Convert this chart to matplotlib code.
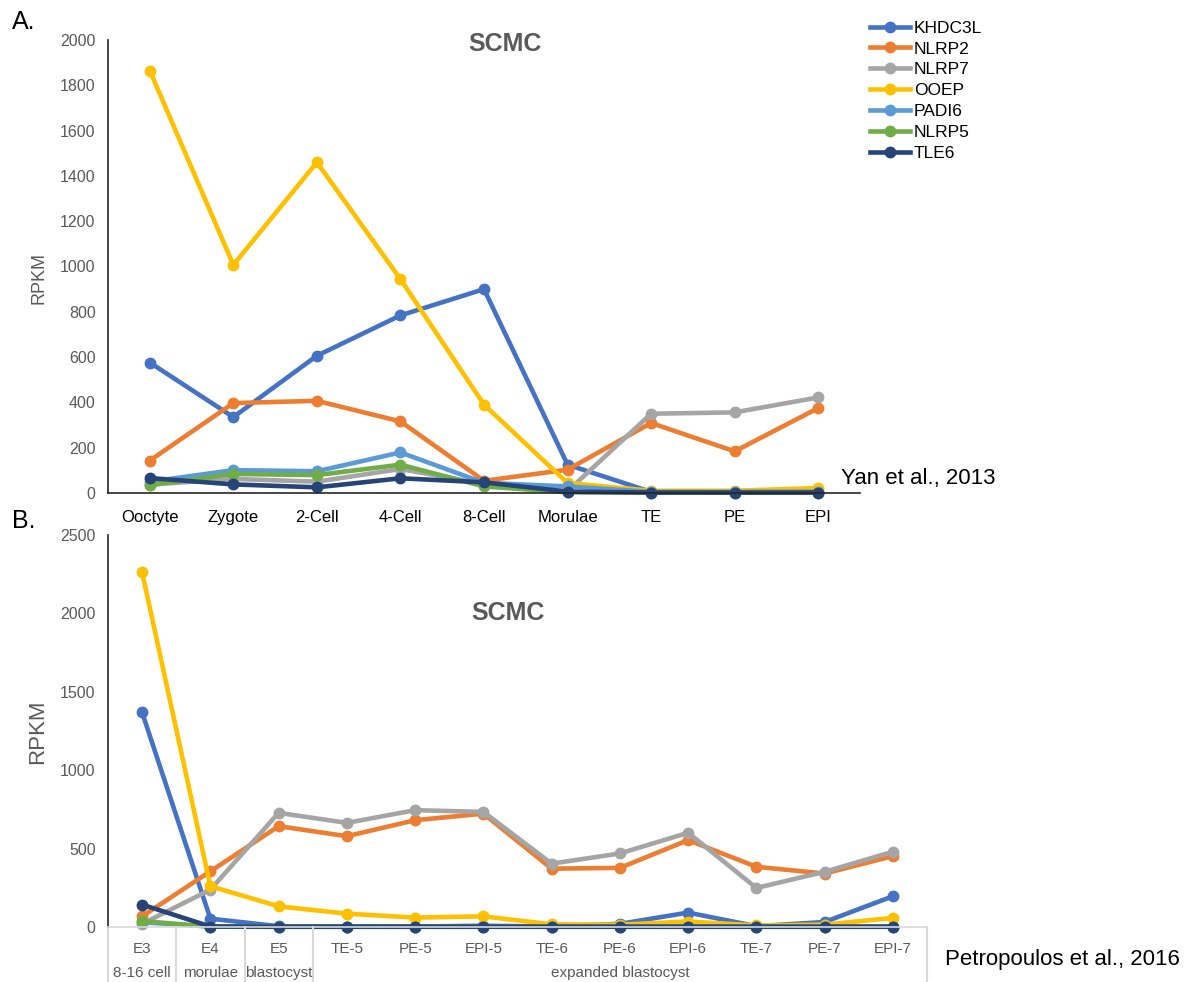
import matplotlib
matplotlib.use("Agg")
import matplotlib.pyplot as plt

plt.rcParams['font.family'] = ['Liberation Sans', 'DejaVu Sans']

# series names and colours (Excel office palette)
genes = ["KHDC3L", "NLRP2", "NLRP7", "OOEP", "PADI6", "NLRP5", "TLE6"]
colors = ["#4472C4", "#ED7D31", "#A5A5A5", "#FFC000", "#5B9BD5", "#70AD47", "#264478"]

# panel A - Yan et al., 2013
stages_a = ["Ooctyte", "Zygote", "2-Cell", "4-Cell", "8-Cell", "Morulae", "TE", "PE", "EPI"]
khdc3l_a = [576, 335, 606, 784, 900, 125, 5, 3, 3]
nlrp2_a = [143, 397, 407, 316, 54, 103, 309, 184, 375]
nlrp7_a = [37, 62, 50, 106, 40, 8, 350, 356, 422]
ooep_a = [1865, 1007, 1460, 944, 390, 44, 10, 10, 22]
padi6_a = [50, 101, 96, 179, 45, 29, 5, 5, 6]
nlrp5_a = [35, 84, 79, 125, 29, 3, 2, 2, 2]
tle6_a = [66, 38, 25, 65, 47, 6, 2, 2, 2]

# panel B - Petropoulos et al., 2016
stages_b = ["E3", "E4", "E5", "TE-5", "PE-5", "EPI-5", "TE-6", "PE-6", "EPI-6", "TE-7", "PE-7", "EPI-7"]
groups_b = ["8-16 cell", "morulae", "blastocyst", "expanded blastocyst"]
group_span = [(0, 0), (1, 1), (2, 2), (3, 11)]
khdc3l_b = [1368, 53, 5, 3, 3, 8, 3, 20, 92, 5, 32, 196]
nlrp2_b = [68, 355, 643, 579, 681, 723, 372, 377, 554, 384, 341, 452]
nlrp7_b = [20, 238, 728, 664, 745, 734, 404, 469, 601, 249, 352, 480]
ooep_b = [2262, 260, 132, 85, 60, 68, 17, 15, 35, 10, 15, 58]
padi6_b = [30, 3, 2, 2, 2, 2, 2, 2, 3, 2, 2, 3]
nlrp5_b = [38, 2, 1, 1, 1, 1, 1, 1, 1, 1, 1, 1]
tle6_b = [143, 3, 2, 2, 2, 2, 2, 2, 2, 2, 2, 2]

series_a = [khdc3l_a, nlrp2_a, nlrp7_a, ooep_a, padi6_a, nlrp5_a, tle6_a]
series_b = [khdc3l_b, nlrp2_b, nlrp7_b, ooep_b, padi6_b, nlrp5_b, tle6_b]

W, H = 1192, 982
fig = plt.figure(figsize=(W / 100, H / 100), dpi=100)
grey = "#595959"

def box(l, t, r, b):
    return [l / W, 1 - b / H, (r - l) / W, (b - t) / H]

# ---------------- panel A ----------------
axa = fig.add_axes(box(108, 40, 860, 493))
xa = range(len(stages_a))
handles = []
for name, vals, c in zip(genes, series_a, colors):
    h, = axa.plot(xa, vals, color=c, lw=3.3, marker='o', ms=7.5, label=name, clip_on=False)
    handles.append(h)
axa.set_xlim(-0.5, len(stages_a) - 0.5)
axa.set_ylim(0, 2000)
axa.set_yticks(range(0, 2001, 200))
axa.set_xticks(list(xa))
axa.set_xticklabels(stages_a, fontsize=12, color="black")
axa.tick_params(axis='x', length=0, pad=12)
axa.tick_params(axis='y', length=0, pad=9, labelsize=11.5, labelcolor=grey)
for s in ["top", "right"]:
    axa.spines[s].set_visible(False)
axa.spines["left"].set_color("#262626")
axa.spines["bottom"].set_color("#262626")
axa.spines["left"].set_linewidth(1.2)
axa.spines["bottom"].set_linewidth(1.2)
axa.text(0.528, 0.992, "SCMC", transform=axa.transAxes, ha='center', va='center',
         fontsize=18, fontweight='bold', color=grey)

# ---------------- panel B ----------------
axb = fig.add_axes(box(108, 535, 927, 927))
xb = range(len(stages_b))
for name, vals, c in zip(genes, series_b, colors):
    axb.plot(xb, vals, color=c, lw=3.3, marker='o', ms=7.5, label=name, clip_on=False)
axb.set_xlim(-0.5, len(stages_b) - 0.5)
axb.set_ylim(0, 2500)
axb.set_yticks(range(0, 2501, 500))
axb.set_xticks(list(xb))
axb.set_xticklabels(stages_b, fontsize=11, color=grey)
axb.tick_params(axis='x', length=0, pad=11)
axb.tick_params(axis='y', length=0, pad=9, labelsize=11.5, labelcolor=grey)
for s in ["top", "right"]:
    axb.spines[s].set_visible(False)
axb.spines["left"].set_color("#262626")
axb.spines["left"].set_linewidth(1.2)
axb.spines["bottom"].set_color("#D9D9D9")
axb.spines["bottom"].set_linewidth(1.2)
axb.text(0.488, 0.80, "SCMC", transform=axb.transAxes, ha='center', va='center',
         fontsize=18, fontweight='bold', color=grey)

# multi-level category box
trans = axb.get_xaxis_transform()
ybot = -(H - 927) / 392
for xs in [-0.5, 0.5, 1.5, 2.5, len(stages_b) - 0.5]:
    axb.plot([xs, xs], [0, ybot], color="#D9D9D9", lw=1.5, transform=trans, clip_on=False)
for g, (a, b) in zip(groups_b, group_span):
    axb.text((a + b) / 2, -46 / 392, g, transform=trans, ha='center', va='center',
             fontsize=11, color=grey)

# ---------------- figure texts ----------------
fig.text(24 / W, 1 - 22 / H, "A.", fontsize=18, ha='center', va='center')
fig.text(24 / W, 1 - 521 / H, "B.", fontsize=18, ha='center', va='center')
fig.text(39 / W, 1 - 278 / H, "RPKM", fontsize=13, rotation=90, ha='center', va='center', color=grey)
fig.text(38 / W, 1 - 732 / H, "RPKM", fontsize=16, rotation=90, ha='center', va='center', color=grey)
fig.text(841 / W, 1 - 478 / H, "Yan et al., 2013", fontsize=16, ha='left', va='center')
fig.text(945 / W, 1 - 960 / H, "Petropoulos et al., 2016", fontsize=16, ha='left', va='center')

fig.legend(handles=handles, loc='upper left', bbox_to_anchor=(867 / W, 1 - 17 / H),
           frameon=False, fontsize=12.5, handlelength=2.3, handletextpad=0.2,
           labelspacing=0.33, borderaxespad=0, borderpad=0.2)

fig.savefig("out.png", dpi=100)
